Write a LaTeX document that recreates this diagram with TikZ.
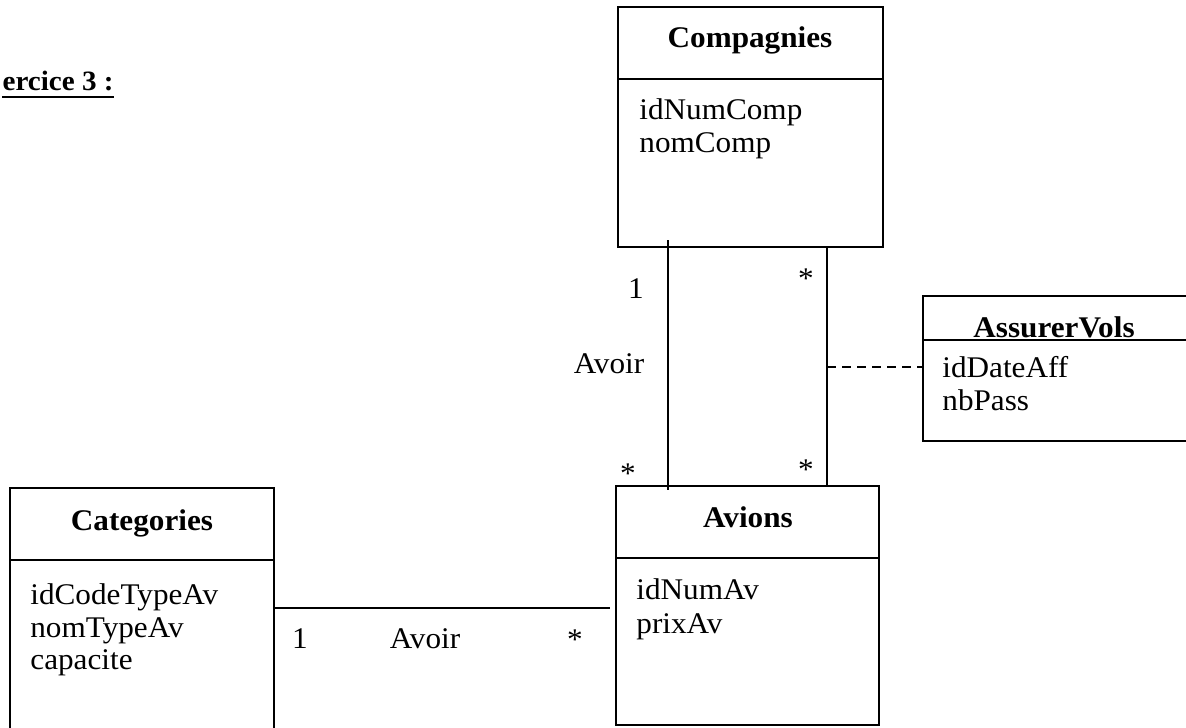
\documentclass[tikz,border=0pt]{standalone}
\usepackage{fontspec}
\setmainfont{Liberation Serif}[FakeStretch=1.04]
\begin{document}
\begin{tikzpicture}[x=0.5pt,y=-0.5pt,
  umlbox/.style={draw, line width=1pt, inner sep=0pt, outer sep=0pt, anchor=north west},
  ttl/.style={font=\fontsize{15}{17}\selectfont\bfseries, inner sep=0pt, anchor=base},
  attr/.style={font=\fontsize{15}{17}\selectfont, inner sep=0pt, anchor=base west},
  lbl/.style={font=\fontsize{15}{17}\selectfont, inner sep=0pt, anchor=base},
  conn/.style={line width=1pt}]
\useasboundingbox (0,0) rectangle (1186,727);
\clip (0,0) rectangle (1186,727);

% heading
\node[font=\fontsize{14}{16}\selectfont\bfseries, inner sep=0pt, anchor=base east] (ex) at (114,91) {ercice 3 :};
\draw[line width=1pt] ([yshift=-3pt]ex.base west) -- ([yshift=-3pt]ex.base east);

% boxes
\node[umlbox, minimum width=132.5pt, minimum height=120pt] (comp) at (618,7) {};
\node[umlbox, minimum width=131.5pt, minimum height=119.5pt] (av) at (616,486) {};
\node[umlbox, minimum width=132pt, minimum height=140pt] (cat) at (10,488) {};
\node[umlbox, minimum width=135pt, minimum height=72.5pt] (assoc) at (923,296) {};

% dividers
\draw[conn] ([yshift=-36pt]comp.north west) -- ([yshift=-36pt]comp.north east);
\draw[conn] ([yshift=-36pt]av.north west) -- ([yshift=-36pt]av.north east);
\draw[conn] ([yshift=-36pt]cat.north west) -- ([yshift=-36pt]cat.north east);
\draw[conn] ([yshift=-22pt]assoc.north west) -- ([yshift=-22pt]assoc.north east);

% titles
\node[ttl] (tcomp) at (750,48) {Compagnies};
\node[ttl] (tav) at (748,527) {Avions};
\node[ttl] (tcat) at (142,530) {Categories};
\node[ttl] (tassoc) at (1054,337) {AssurerVols};

% attributes
\node[attr] (a1) at (639,120) {idNumComp};
\node[attr] (a2) at (639,153) {nomComp};
\node[attr] (a3) at (636,599) {idNumAv};
\node[attr] (a4) at (636,633) {prixAv};
\node[attr] (a5) at (30,604) {idCodeTypeAv};
\node[attr] (a6) at (30,637) {nomTypeAv};
\node[attr] (a7) at (30,669) {capacite};
\node[attr] (a8) at (942,377) {idDateAff};
\node[attr] (a9) at (942,410) {nbPass};

% connectors
\draw[conn] ([shift={(50,-7)}]comp.south west) -- ([shift={(52,4)}]av.north west);
\draw[conn] ([shift={(209,0)}]comp.south west) -- coordinate[pos=0.5] (mid) ([shift={(211,1)}]av.north west);
\draw[conn, dash pattern=on 4.5pt off 3pt] (mid) -- (mid -| assoc.west);
\draw[conn] ([shift={(0,120)}]cat.north east) -- ([shift={(-6,122)}]av.north west);

% multiplicities and labels
\node[lbl] (m1) at (636,298) {1};
\node[lbl] (m2) at (806,288) {*};
\node[lbl] (r1) at (609,373) {Avoir};
\node[lbl] (m3) at (628,483) {*};
\node[lbl] (m4) at (806,479) {*};
\node[lbl] (m5) at (300,648) {1};
\node[lbl] (r2) at (425,648) {Avoir};
\node[lbl] (m6) at (575,649) {*};
\end{tikzpicture}
\end{document}
